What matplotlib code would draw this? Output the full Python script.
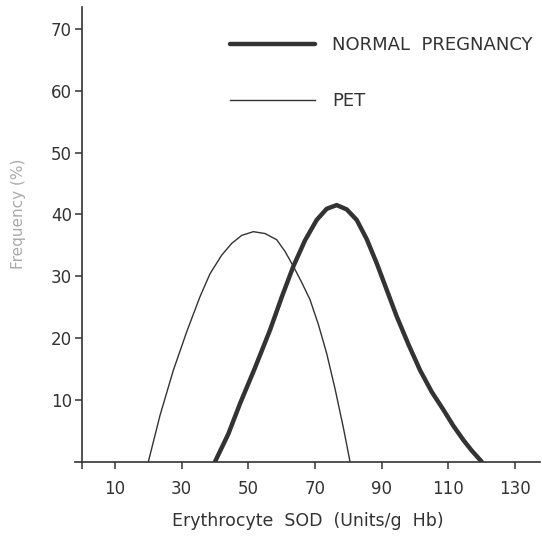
import matplotlib
matplotlib.use("Agg")
import matplotlib.pyplot as plt

# values
sod_normal = [40, 44, 47.5, 52, 56.5, 60, 63.5, 67, 70.5, 73.5, 76.5, 79.5, 82.5, 85.5, 88.5, 91.5, 94.5, 98, 101.5, 105, 108.5, 111.5, 114.5, 117, 120]
freq_normal = [0, 4.5, 9.4, 15.2, 21.3, 26.6, 31.6, 35.8, 39.1, 40.9, 41.5, 40.8, 39.1, 36.0, 32.1, 27.8, 23.5, 19.0, 14.8, 11.3, 8.4, 5.8, 3.5, 1.8, 0]

sod_pet = [20, 23.5, 27.5, 31.5, 35.5, 38.5, 42, 45, 48, 51.5, 55, 58.5, 61, 63.5, 66, 68.5, 71, 73.5, 76, 78.5, 80.5]
freq_pet = [0, 7.5, 14.8, 21.0, 26.7, 30.4, 33.4, 35.3, 36.6, 37.2, 36.9, 35.9, 34.0, 31.6, 29.0, 26.2, 22.2, 17.5, 11.8, 5.5, 0]

x_ticks = [0, 10, 30, 50, 70, 90, 110, 130]
x_labels = ["", "10", "30", "50", "70", "90", "110", "130"]
y_ticks = [10, 20, 30, 40, 50, 60, 70]

ink = "#333333"

fig = plt.figure(figsize=(5.42, 5.49), dpi=100)
ax = fig.add_axes([0.1384, 0.159, 0.858, 0.829])

ax.plot(sod_normal, freq_normal, color=ink, lw=3.2, solid_capstyle="round", label="NORMAL  PREGNANCY")
ax.plot(sod_pet, freq_pet, color=ink, lw=1.0, label="PET")

ax.set_xlim(-2, 137.5)
ax.set_ylim(0, 73.6)
ax.spines["left"].set_position(("data", 0))
ax.spines["top"].set_visible(False)
ax.spines["right"].set_visible(False)
for s in ("left", "bottom"):
    ax.spines[s].set_color(ink)
    ax.spines[s].set_linewidth(1.2)

ax.set_xticks(x_ticks)
ax.set_xticklabels(x_labels)
ax.set_yticks(y_ticks)
ax.tick_params(axis="both", colors=ink, labelsize=12, length=5, width=1.1)
ax.tick_params(axis="x", pad=8)
ax.tick_params(axis="y", pad=2)

ax.set_xlabel("Erythrocyte  SOD  (Units/g  Hb)", fontsize=12.5, color=ink, labelpad=10)
fig.text(0.035, 0.61, "Frequency (%)", rotation=90, fontsize=11, color="#aaaaaa",
         ha="center", va="center")

leg = ax.legend(loc="upper left", bbox_to_anchor=(0.298, 0.970), frameon=False,
                handlelength=4.7, handletextpad=0.95, labelspacing=2.1, fontsize=13)
for t in leg.get_texts():
    t.set_color(ink)

fig.savefig("out.png", dpi=100)
